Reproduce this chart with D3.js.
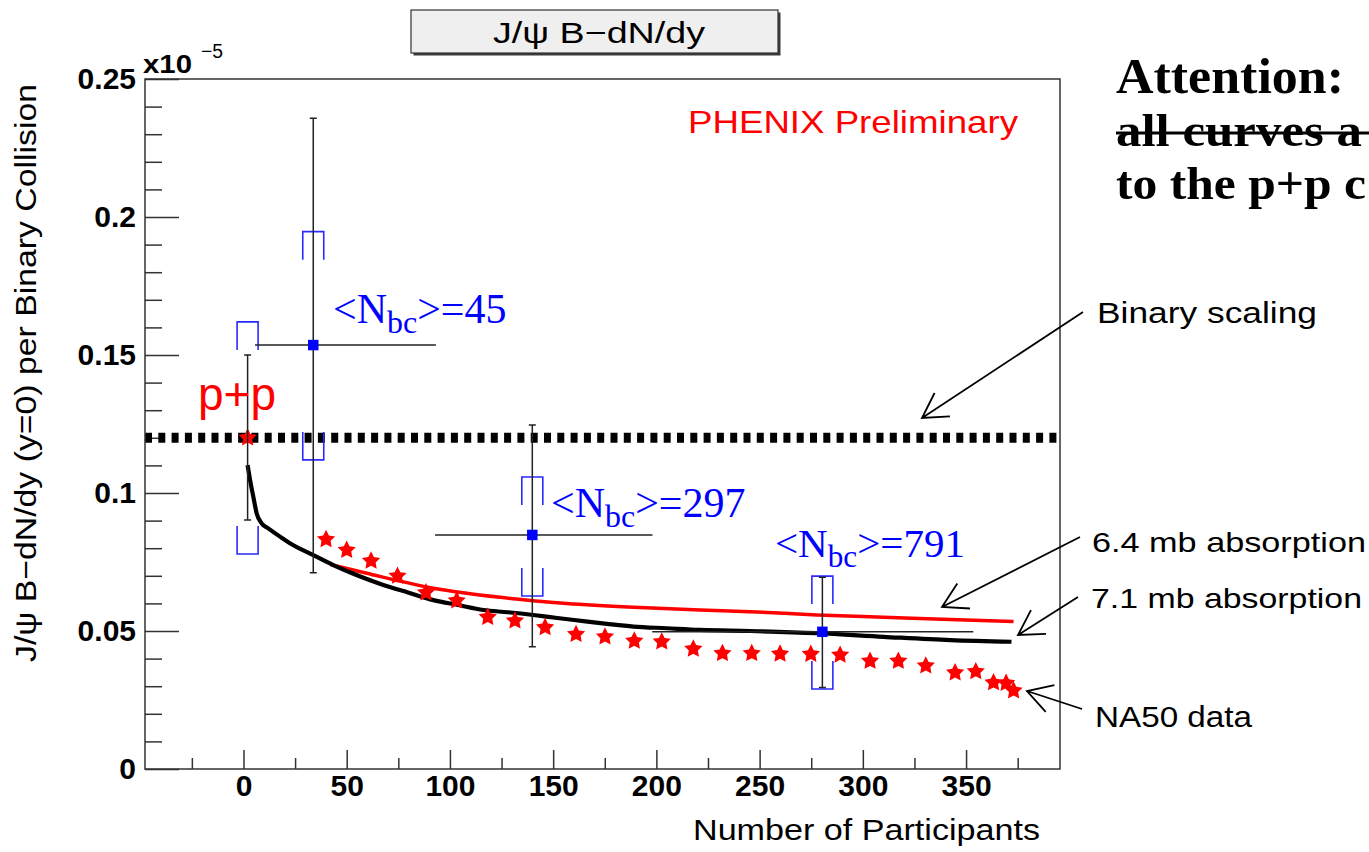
<!DOCTYPE html>
<html>
<head>
<meta charset="utf-8">
<script src="https://cdn.jsdelivr.net/npm/d3@7"></script>
<style>
  html, body { margin: 0; padding: 0; background: #fff; overflow: hidden; }
  svg { display: block; }
</style>
</head>
<body>
<svg id="chart" width="1369" height="852"></svg>
<script>
// ---- data (yield per binary collision, in units of 1e-5) ----

// NA50 Pb+Pb data points
const na50Npart = [40.0, 50.0, 61.8, 74.6, 88.4, 103.3, 118.3, 131.5, 146.1, 161.1, 175.1, 189.3, 202.6, 217.9,
                   232.0, 246.2, 259.9, 274.8, 289.0, 303.5, 317.2, 330.5, 344.7, 354.7, 363.3, 369.4, 373.0];
const na50Yield = [0.0832, 0.0793, 0.0754, 0.0699, 0.0639, 0.0610, 0.0550, 0.0537, 0.0513, 0.0488, 0.0479, 0.0464,
                   0.0461, 0.0435, 0.0419, 0.0419, 0.0417, 0.0416, 0.0413, 0.0391, 0.0391, 0.0374, 0.0349, 0.0353,
                   0.0313, 0.0311, 0.0284];

// nuclear absorption curves
const abs71Npart = [2, 3.2, 4.75, 6.4, 8.8, 12, 17.7, 22.5, 33.8, 43.5, 55, 67.7, 80, 92, 104, 116.2, 128, 140.4,
                    152, 164.6, 176, 188.9, 205, 221.2, 245.4, 277.7, 310, 342.4, 372];
const abs71Yield = [0.1101, 0.1047, 0.0987, 0.0926, 0.0890, 0.0872, 0.0842, 0.0818, 0.0775, 0.0739, 0.0702, 0.0667,
                    0.0639, 0.0612, 0.0594, 0.0576, 0.0568, 0.0558, 0.0547, 0.0536, 0.0526, 0.0516, 0.0510, 0.0504,
                    0.0500, 0.0492, 0.0479, 0.0467, 0.0461];
const abs64Npart = [42, 59.7, 92, 124.3, 156.6, 188.9, 221.2, 245.4, 277.7, 310, 342.4, 373];
const abs64Yield = [0.0741, 0.0709, 0.0655, 0.0622, 0.0600, 0.0586, 0.0576, 0.0570, 0.0558, 0.0550, 0.0542, 0.0534];

// PHENIX Au+Au points
const auauNbc     = [45, 297, 791];
const auauNpart   = [33.8, 139.9, 280.4];
const auauNpartLo = [5.6, 92.8, 198.0];
const auauNpartHi = [93.2, 198.1, 353.5];
const auauYield   = [0.1536, 0.0848, 0.0497];
const auauStatLo  = [0.0711, 0.0443, 0.0295];
const auauStatHi  = [0.2358, 0.1246, 0.0695];
const auauSysLo   = [0.1120, 0.0627, 0.0290];
const auauSysHi   = [0.1947, 0.1058, 0.0699];

// p+p reference
const ppNpart  = [2];
const ppYield  = [0.12];
const ppStatLo = [0.0902];
const ppStatHi = [0.150];
const ppSysLo  = [0.0779];
const ppSysHi  = [0.162];

// binary scaling level
const binaryScaling = 0.12;

// axis ticks
const yMajorTicks = [0, 0.05, 0.1, 0.15, 0.2, 0.25];
const yTickLabels = ["0", "0.05", "0.1", "0.15", "0.2", "0.25"];
const yMinorTicks = [0.01, 0.02, 0.03, 0.04, 0.06, 0.07, 0.08, 0.09, 0.11, 0.12, 0.13, 0.14,
                     0.16, 0.17, 0.18, 0.19, 0.21, 0.22, 0.23, 0.24];
const xMajorTicks = [0, 50, 100, 150, 200, 250, 300, 350];
const xMinorTicks = [-25, 25, 75, 125, 175, 225, 275, 325, 375];

// ---- layout ----
const SANS = "'Liberation Sans', Arial, Helvetica, sans-serif";
const SERIF = "'Liberation Serif', 'Times New Roman', serif";
const frame = { left: 145, right: 1060, top: 79, bottom: 769 };

const svg = d3.select("#chart");

const x = d3.scaleLinear().domain([-47.7, 395.5]).range([frame.left, frame.right]);
const y = d3.scaleLinear().domain([0, 0.25]).range([frame.bottom, frame.top]);

svg.append("defs").append("clipPath").attr("id", "plotClip")
  .append("rect")
  .attr("x", frame.left).attr("y", frame.top)
  .attr("width", frame.right - frame.left).attr("height", frame.bottom - frame.top);

// ---- title box ----
const title = svg.append("g");
title.append("rect").attr("x", 413.5).attr("y", 12.5).attr("width", 367).attr("height", 43).attr("fill", "#3a3a3a");
title.append("rect").attr("x", 411).attr("y", 10).attr("width", 367).attr("height", 43)
  .attr("fill", "#efefef").attr("stroke", "#333").attr("stroke-width", 1.2);
title.append("text").attr("x", 493).attr("y", 42.7)
  .attr("font-family", SANS).attr("font-size", 30)
  .attr("textLength", 212).attr("lengthAdjust", "spacingAndGlyphs")
  .text("J/ψ B−dN/dy");

// ---- axes ----
const axisStyle = g => {
  g.select(".domain").remove();
  g.selectAll(".tick line").attr("stroke", "#333").attr("stroke-width", 1.5);
  g.selectAll(".tick text").attr("font-family", SANS).attr("font-size", 30)
    .attr("font-weight", "bold").attr("fill", "#000");
};

svg.append("g").attr("transform", `translate(${frame.left},0)`)
  .call(d3.axisLeft(y).tickValues(yMajorTicks).tickSizeInner(-34).tickSizeOuter(0).tickPadding(9)
    .tickFormat((d, i) => yTickLabels[i]))
  .call(axisStyle);
svg.append("g").attr("transform", `translate(${frame.left},0)`)
  .call(d3.axisLeft(y).tickValues(yMinorTicks).tickSizeInner(-17).tickSizeOuter(0).tickFormat(""))
  .call(axisStyle);

svg.append("g").attr("transform", `translate(0,${frame.bottom})`)
  .call(d3.axisBottom(x).tickValues(xMajorTicks).tickSizeInner(-19).tickSizeOuter(0).tickPadding(6)
    .tickFormat(d3.format("d")))
  .call(axisStyle);
svg.append("g").attr("transform", `translate(0,${frame.bottom})`)
  .call(d3.axisBottom(x).tickValues(xMinorTicks).tickSizeInner(-11).tickSizeOuter(0).tickFormat(""))
  .call(axisStyle);

// axis exponent
svg.append("text").attr("x", 143).attr("y", 73.3)
  .attr("font-family", SANS).attr("font-size", 26).attr("font-weight", "bold")
  .attr("textLength", 49).attr("lengthAdjust", "spacingAndGlyphs").text("x10");
svg.append("text").attr("x", 201).attr("y", 58)
  .attr("font-family", SANS).attr("font-size", 20)
  .attr("textLength", 22).attr("lengthAdjust", "spacingAndGlyphs").text("−5");

// axis titles
svg.append("text").attr("x", 1040).attr("y", 840)
  .attr("text-anchor", "end")
  .attr("font-family", SANS).attr("font-size", 29)
  .attr("textLength", 347).attr("lengthAdjust", "spacingAndGlyphs")
  .text("Number of Participants");
svg.append("text")
  .attr("transform", "translate(36,373) rotate(-90)")
  .attr("text-anchor", "middle")
  .attr("font-family", SANS).attr("font-size", 30)
  .attr("textLength", 578).attr("lengthAdjust", "spacingAndGlyphs")
  .text("J/ψ  B−dN/dy (y=0) per Binary Collision");

// ---- plot contents ----
const plot = svg.append("g").attr("clip-path", "url(#plotClip)");

// binary scaling line
plot.append("line")
  .attr("x1", x.range()[0]).attr("x2", x.range()[1])
  .attr("y1", y(binaryScaling)).attr("y2", y(binaryScaling))
  .attr("stroke", "#000").attr("stroke-width", 10).attr("stroke-dasharray", "7 6.3");

const line = d3.line().x(d => x(d[0])).y(d => y(d[1])).curve(d3.curveMonotoneX);

plot.append("path")
  .datum(abs64Npart.map((n, i) => [n, abs64Yield[i]]))
  .attr("d", line).attr("fill", "none").attr("stroke", "#ff0000").attr("stroke-width", 3.5);
plot.append("path")
  .datum(abs71Npart.map((n, i) => [n, abs71Yield[i]]))
  .attr("d", line).attr("fill", "none").attr("stroke", "#000").attr("stroke-width", 4.2)
  .attr("stroke-linejoin", "round");

// full five-pointed star marker; size = outer radius squared
const fatStar = {
  draw(ctx, size) {
    const R = Math.sqrt(size), r = R * 0.5;
    for (let k = 0; k < 10; k++) {
      const a = -Math.PI / 2 + k * Math.PI / 5, rr = k % 2 ? r : R;
      const px = rr * Math.cos(a), py = rr * Math.sin(a);
      k ? ctx.lineTo(px, py) : ctx.moveTo(px, py);
    }
    ctx.closePath();
  }
};
const star = d3.symbol(fatStar).size(92);

plot.selectAll(".na50").data(na50Npart.map((n, i) => [n, na50Yield[i]]))
  .join("path").attr("class", "na50")
  .attr("transform", d => `translate(${x(d[0])},${y(d[1])})`)
  .attr("d", star).attr("fill", "#ff0000");

// p+p point
plot.selectAll(".pp").data(ppNpart.map((n, i) => [n, ppYield[i]]))
  .join("path").attr("class", "pp")
  .attr("transform", d => `translate(${x(d[0])},${y(d[1])})`)
  .attr("d", star).attr("fill", "#ff0000");

// systematic brackets: ⊓ above, ⊔ below
const BW = 10.5, BH = 28;
function brackets(g, xs, lo, hi) {
  xs.forEach((n, i) => {
    const cx = x(n), yt = y(hi[i]), yb = y(lo[i]);
    g.append("path")
      .attr("d", `M${cx - BW},${yt + BH}V${yt}H${cx + BW}V${yt + BH}M${cx - BW},${yb - BH}V${yb}H${cx + BW}V${yb - BH}`)
      .attr("fill", "none").attr("stroke", "#2a2aff").attr("stroke-width", 1.6);
  });
}
brackets(plot, ppNpart, ppSysLo, ppSysHi);
brackets(plot, auauNpart, auauSysLo, auauSysHi);

// statistical error bars
function vbars(g, xs, lo, hi) {
  xs.forEach((n, i) => {
    const cx = x(n), yt = y(hi[i]), yb = y(lo[i]);
    g.append("path")
      .attr("d", `M${cx},${yt}V${yb}M${cx - 3.5},${yt}H${cx + 3.5}M${cx - 3.5},${yb}H${cx + 3.5}`)
      .attr("fill", "none").attr("stroke", "#222").attr("stroke-width", 1.5);
  });
}
vbars(plot, ppNpart, ppStatLo, ppStatHi);
vbars(plot, auauNpart, auauStatLo, auauStatHi);
auauNpart.forEach((n, i) => {
  plot.append("line")
    .attr("x1", x(auauNpartLo[i])).attr("x2", x(auauNpartHi[i]))
    .attr("y1", y(auauYield[i])).attr("y2", y(auauYield[i]))
    .attr("stroke", "#222").attr("stroke-width", 1.5);
});

// Au+Au markers
plot.selectAll(".auau").data(auauNpart.map((n, i) => [n, auauYield[i]]))
  .join("path").attr("class", "auau")
  .attr("transform", d => `translate(${x(d[0])},${y(d[1])})`)
  .attr("d", d3.symbol(d3.symbolSquare).size(110)).attr("fill", "#0000ff");

// frame
svg.append("rect")
  .attr("x", frame.left).attr("y", frame.top)
  .attr("width", frame.right - frame.left).attr("height", frame.bottom - frame.top)
  .attr("fill", "none").attr("stroke", "#333").attr("stroke-width", 1.5);

// ---- labels ----
svg.append("text").attr("x", 688).attr("y", 133)
  .attr("font-family", SANS).attr("font-size", 32).attr("fill", "#ff0000")
  .attr("textLength", 330).attr("lengthAdjust", "spacingAndGlyphs")
  .text("PHENIX Preliminary");

svg.append("text").attr("x", 198).attr("y", 410)
  .attr("font-family", SANS).attr("font-size", 47).attr("fill", "#ff0000")
  .attr("textLength", 78).attr("lengthAdjust", "spacingAndGlyphs")
  .text("p+p");

// <N_bc> labels
const nbcPos = [[333, 322.7, 42], [551, 517, 42], [775, 557.3, 41]];
auauNbc.forEach((v, i) => {
  const [lx, ly, fs] = nbcPos[i];
  const t = svg.append("text").attr("x", lx).attr("y", ly)
    .attr("font-family", SERIF).attr("font-size", fs).attr("fill", "#0000ff");
  t.append("tspan").text("<N");
  t.append("tspan").attr("font-size", fs * 0.76).attr("dy", 10).text("bc");
  t.append("tspan").attr("dy", -10).text(">=" + v);
});

// annotations with arrows
function arrow(x1, y1, x2, y2) {
  const a = Math.atan2(y1 - y2, x1 - x2), L = 28, h = Math.PI / 6;
  svg.append("path")
    .attr("d", `M${x1},${y1}L${x2},${y2}` +
      `M${x2 + L * Math.cos(a + h)},${y2 + L * Math.sin(a + h)}L${x2},${y2}` +
      `L${x2 + L * Math.cos(a - h)},${y2 + L * Math.sin(a - h)}`)
    .attr("fill", "none").attr("stroke", "#000").attr("stroke-width", 1.8);
}
const notes = [
  { text: "Binary scaling",    x: 1097, y: 323.3, fs: 30, len: 220, arrow: [1083, 312, 922, 418] },
  { text: "6.4 mb absorption", x: 1092, y: 551.7, fs: 28, len: 274, arrow: [1080, 537, 942, 607] },
  { text: "7.1 mb absorption", x: 1091, y: 608.3, fs: 28, len: 271, arrow: [1078, 597, 1018, 635] },
  { text: "NA50 data",         x: 1095, y: 727.3, fs: 29, len: 157, arrow: [1082, 709, 1027, 691] }
];
notes.forEach(n => {
  svg.append("text").attr("x", n.x).attr("y", n.y)
    .attr("font-family", SANS).attr("font-size", n.fs)
    .attr("textLength", n.len).attr("lengthAdjust", "spacingAndGlyphs")
    .text(n.text);
  arrow(...n.arrow);
});

// side note (only its leading part fits on the page)
const note = svg.append("g")
  .attr("font-family", SERIF).attr("font-weight", "bold");
note.append("text").attr("x", 1116).attr("y", 93.3).attr("font-size", 50)
  .attr("textLength", 228).attr("lengthAdjust", "spacingAndGlyphs").text("Attention:");
note.append("text").attr("x", 1116).attr("y", 145.7).attr("font-size", 47)
  .attr("textLength", 246).attr("lengthAdjust", "spacingAndGlyphs").text("all curves a");
note.append("line").attr("x1", 1116).attr("x2", 1369).attr("y1", 133).attr("y2", 133)
  .attr("stroke", "#000").attr("stroke-width", 3);
note.append("text").attr("x", 1116).attr("y", 198.7).attr("font-size", 47)
  .attr("textLength", 250).attr("lengthAdjust", "spacingAndGlyphs").text("to the p+p c");
</script>
</body>
</html>
